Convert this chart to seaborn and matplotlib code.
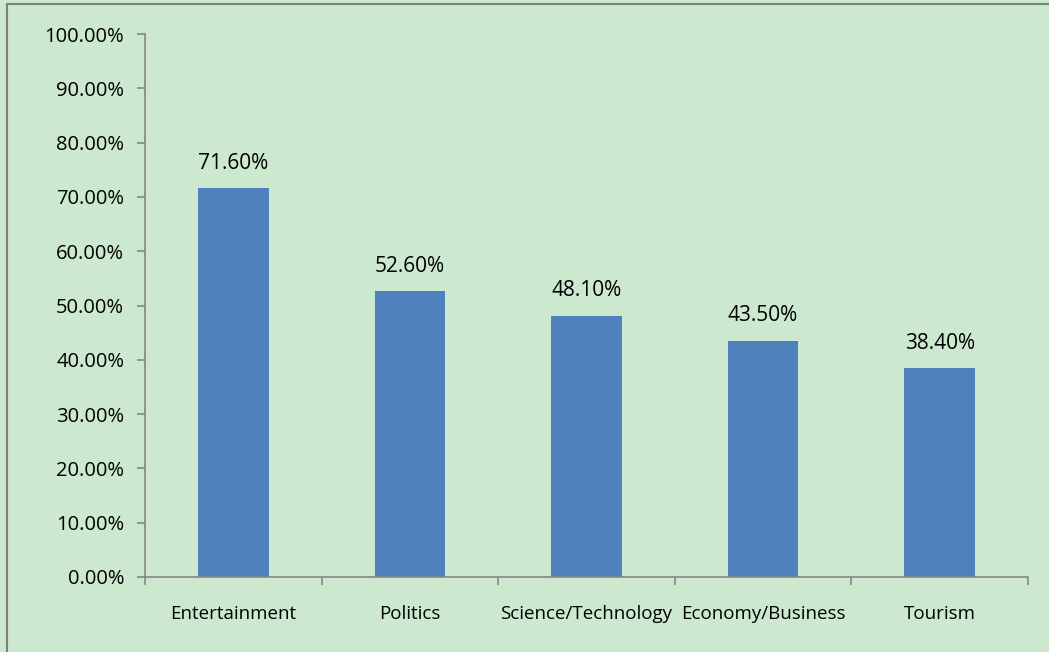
import numpy as np
import pandas as pd
import matplotlib.pyplot as plt
from matplotlib.lines import Line2D
from matplotlib.ticker import FixedLocator, FuncFormatter
import seaborn as sns

categories = ["Entertainment", "Politics", "Science/Technology",
              "Economy/Business", "Tourism"]
values = [71.6, 52.6, 48.1, 43.5, 38.4]

BG = "#CCE8CF"
BAR = "#4F81BD"
AXIS = "#868686"

sns.set_style("white")
plt.rcParams["font.family"] = ["Open Sans", "DejaVu Sans"]

df = pd.DataFrame({"topic": categories, "share": values})

fig = plt.figure(figsize=(10.49, 6.52), dpi=100, facecolor=BG)
ax = fig.add_axes([145 / 1049, 1 - 577 / 652, (1028 - 145) / 1049, (577 - 34) / 652])
ax.set_facecolor(BG)

sns.barplot(data=df, x="topic", y="share", color=BAR, width=0.4,
            saturation=1, linewidth=0, ax=ax)

for i, v in enumerate(values):
    ax.text(i, v + 2.7, f"{v:.2f}%", ha="center", va="bottom",
            fontsize=15, color="black")

ax.set_xlim(-0.5, len(categories) - 0.5)
ax.set_ylim(0, 100)
ax.set_yticks(np.arange(0, 101, 10))
ax.yaxis.set_major_formatter(FuncFormatter(lambda y, _: f"{y:.2f}%"))

# category boundaries as major ticks, labels on minor ticks
ax.xaxis.set_major_locator(FixedLocator(np.arange(-0.5, len(categories), 1.0)))
ax.xaxis.set_minor_locator(FixedLocator(np.arange(len(categories))))
ax.set_xticklabels([""] * (len(categories) + 1))
ax.set_xticklabels(categories, minor=True)
ax.tick_params(axis="x", which="major", direction="out", length=6,
               width=1.2, color=AXIS)
ax.tick_params(axis="x", which="minor", length=0, pad=20, labelsize=13.5,
               labelcolor="black")
ax.tick_params(axis="y", direction="out", length=6, width=1.2,
               color=AXIS, labelsize=14.5, pad=9, labelcolor="black")
ax.tick_params(left=True, bottom=True)

for side in ["top", "right"]:
    ax.spines[side].set_visible(False)
for side in ["left", "bottom"]:
    ax.spines[side].set_color(AXIS)
    ax.spines[side].set_linewidth(1.2)

ax.set_xlabel("")
ax.set_ylabel("")

# chart-area border (top and left edges visible)
fig.add_artist(Line2D([7 / 1049, 7 / 1049], [0, 1 - 4 / 652],
                      transform=fig.transFigure, color="#7F7F7F", lw=1.5))
fig.add_artist(Line2D([7 / 1049, 1], [1 - 4 / 652, 1 - 4 / 652],
                      transform=fig.transFigure, color="#7F7F7F", lw=1.5))

fig.savefig("out.png", dpi=100, facecolor=BG)
